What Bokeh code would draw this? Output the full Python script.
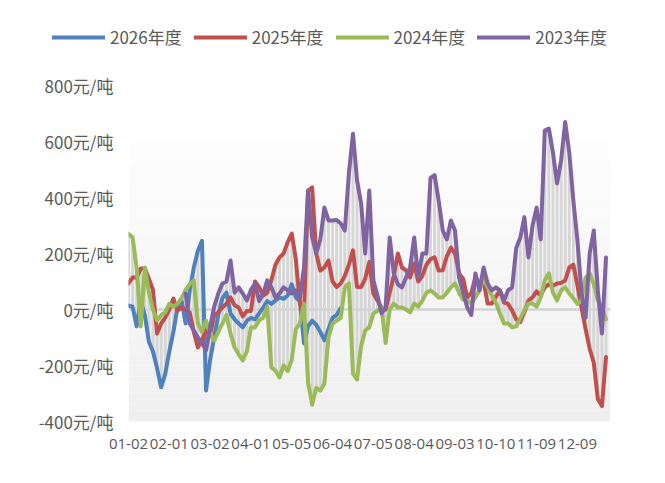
import numpy as np
from bokeh.plotting import figure
from bokeh.layouts import column
from bokeh.models import (Range1d, FixedTicker, PrintfTickFormatter, Legend, LegendItem,
                          Span, BoxAnnotation, ColumnDataSource)
from bokeh.embed import file_html
from bokeh.resources import INLINE

# ---- data ----
series_names = ["2026年度", "2025年度", "2024年度", "2023年度"]
series_colors = ["#4f81bd", "#c0504d", "#9bbb59", "#8064a2"]
x_tick_labels = ["01-02", "02-01", "03-02", "04-01", "05-05", "06-04",
                 "07-05", "08-04", "09-03", "10-10", "11-09", "12-09"]
label_every = 10
y_ticks = [-400, -200, 0, 200, 400, 600, 800]
n_points = 118

s2026 = [14, 10, -60, 30, -20, -115, -150, -210, -278, -230, -150, -80, 7, 32, -50,
         68, 150, 210, 245, -289, -180, -100, -20, 40, 60, -15, -35, -50, -64, -40,
         -30, -35, -14, 7, 30, 20, 32, 43, 38, 50, 90, 43, 30, -121, -60, -40, -55,
         -80, -110, -70, -30, -20, 5]

s2025 = [93, 114, 114, 146, 146, 110, 70, -86, -50, -29, 0, 39, -4, 7, 0, -10, -80,
         -136, -110, -75, -90, -20, -10, 7, 21, 43, 15, 7, -25, -5, -5, 100, 80, 50,
         60, 104, 160, 186, 200, 240, 271, 180, 20, -20, 425, 436, 200, 139, 150, 175,
         100, 80, 93, 120, 160, 211, 80, 80, 110, 170, 57, 32, 7, 0, 60, 120, 200, 150,
         140, 114, 164, 100, 120, 160, 180, 186, 139, 140, 190, 221, 200, 129, 110, 43,
         60, 114, 95, 100, 21, 21, 45, 68, 25, 20, -4, -35, -45, -10, 32, 43, 65, 50,
         79, 90, 85, 93, 95, 104, 150, 160, 85, 7, -70, -140, -190, -320, -345, -170]

s2024 = [271, 257, 150, -60, 150, 60, 0, -39, -20, -10, 20, 10, 20, 40, 70, 90, 104,
         -50, -80, -40, -86, -111, -80, -50, -20, -86, -136, -160, -182, -150, -64,
         -64, -39, -30, 10, -207, -218, -243, -200, -220, -180, -70, -50, 20, -260,
         -340, -280, -290, -264, -100, -50, -40, -30, 79, 93, -229, -250, -130, -75,
         -64, -14, -5, 7, -120, 0, 21, 7, 7, 0, -10, 21, 10, 32, 60, 68, 57, 43, 43,
         60, 79, 93, 60, 35, 32, 21, 43, 68, 114, 80, 50, 25, -14, -50, -50, -64, -60,
         -30, -4, 21, 21, 10, 43, 104, 129, 60, 32, 68, 79, 57, 40, 20, 32, 114, 129,
         90, 32, 7, -35]

s2023_start = 14
s2023 = [57, -50, -75, -100, -120, -146, -64, 10, 57, 93, 100, 175, 60, 79, 57, 32,
         70, 93, 30, 57, 104, 80, 43, 57, 79, 68, 57, 68, 40, 150, 425, 257, 200, 250,
         364, 318, 318, 320, 307, 282, 486, 628, 461, 378, 200, 425, 104, 50, -14, 7,
         257, 129, 90, 79, 114, 150, 257, 114, 200, 200, 470, 480, 389, 282, 250, 318,
         282, 114, 60, 7, -20, 129, 68, 150, 93, 68, 79, 68, 32, 68, 79, 220, 257, 330,
         186, 300, 364, 250, 639, 646, 560, 450, 532, 670, 560, 389, 246, 60, -30, 200,
         282, 68, -86, 186]

# ---- derived ----
def padded(vals, start=0):
    arr = np.full(n_points, np.nan)
    arr[start:start + len(vals)] = vals
    return arr

all_series = [padded(s2026), padded(s2025), padded(s2024), padded(s2023, s2023_start)]
x_all = np.arange(n_points)
stack = np.vstack(all_series)
hilo = ColumnDataSource(dict(x=x_all, lo=np.nanmin(stack, axis=0), hi=np.nanmax(stack, axis=0)))

y_lo, y_hi = y_ticks[0], y_ticks[-1]

W = 652
LEG_H = 60
H = 480

# ---- legend strip ----
pl = figure(width=W, height=LEG_H, x_range=Range1d(0, 1), y_range=Range1d(0, 1),
            x_axis_type=None, y_axis_type=None, output_backend="svg", toolbar_location=None,
            min_border=0)
pl.frame_align = False
pl.xgrid.visible = False
pl.ygrid.visible = False
pl.outline_line_color = None
leg_renderers = [pl.line(x=[np.nan], y=[np.nan], line_color=c, line_width=4, line_cap="round")
                 for c in series_colors]
legend = Legend(items=[LegendItem(label=n, renderers=[r]) for n, r in zip(series_names, leg_renderers)],
                orientation="horizontal", location=(52, 11),
                glyph_width=53, glyph_height=24, label_standoff=5, spacing=12,
                label_text_font_size="17px", label_text_color="#595959",
                label_text_font="Noto Sans CJK SC", border_line_color=None,
                background_fill_alpha=0, padding=0, margin=0)
pl.add_layout(legend, "center")

# ---- main chart ----
p = figure(width=W, height=H - LEG_H, x_range=Range1d(0, n_points + 0.1),
           y_range=Range1d(y_lo, y_hi), output_backend="svg", toolbar_location=None,
           min_border_left=128, min_border_right=W - 610, min_border_top=85 - LEG_H,
           min_border_bottom=H - 421)
p.frame_align = False
p.xgrid.visible = False
p.ygrid.visible = False
p.outline_line_color = None
p.background_fill_color = "white"
p.border_fill_color = "white"

# plot-area gradient (white at top -> light grey at bottom)
n_bands = 60
band = (y_hi - y_lo) / n_bands
for k in range(n_bands):
    b = y_lo + k * band
    frac = (b + band / 2 - y_lo) / (y_hi - y_lo)  # 0 bottom, 1 top
    t = min(1.0, frac / 0.86)
    g = int(round(239 + (254 - 239) * t))
    p.add_layout(BoxAnnotation(bottom=b, top=b + band, fill_color=(g, g, g), fill_alpha=1.0,
                               line_color=None, level="underlay"))

p.add_layout(Span(location=0, dimension="width", line_color="#d2d2d2", line_width=2.5,
                  level="underlay"))

# high-low lines
p.segment(x0="x", y0="lo", x1="x", y1="hi", source=hilo, line_color="#d6d6d6", line_width=3)

for arr, col in zip(all_series, series_colors):
    mask = ~np.isnan(arr)
    p.line(x_all[mask], arr[mask], line_color=col, line_width=4,
           line_join="round", line_cap="round")

# axes
p.yaxis.ticker = FixedTicker(ticks=y_ticks)
p.yaxis.formatter = PrintfTickFormatter(format="%d元/吨")
p.yaxis.axis_line_color = None
p.yaxis.major_tick_line_color = None
p.yaxis.minor_tick_line_color = None
p.yaxis.major_label_standoff = 9
p.yaxis.major_label_text_font = "Noto Sans CJK SC"
p.yaxis.major_label_text_font_size = "17px"
p.yaxis.major_label_text_color = "#595959"

x_ticks = [i * label_every for i in range(len(x_tick_labels))]
p.xaxis.ticker = FixedTicker(ticks=x_ticks)
p.xaxis.major_label_overrides = {t: lab for t, lab in zip(x_ticks, x_tick_labels)}
p.xaxis.axis_line_color = None
p.xaxis.major_tick_line_color = None
p.xaxis.minor_tick_line_color = None
p.xaxis.major_label_standoff = 11
p.xaxis.major_label_text_font = "Open Sans"
p.xaxis.major_label_text_font_size = "15px"
p.xaxis.major_label_text_color = "#595959"

layout = column(pl, p, spacing=0)
open("out.html", "w").write(file_html(layout, INLINE))
